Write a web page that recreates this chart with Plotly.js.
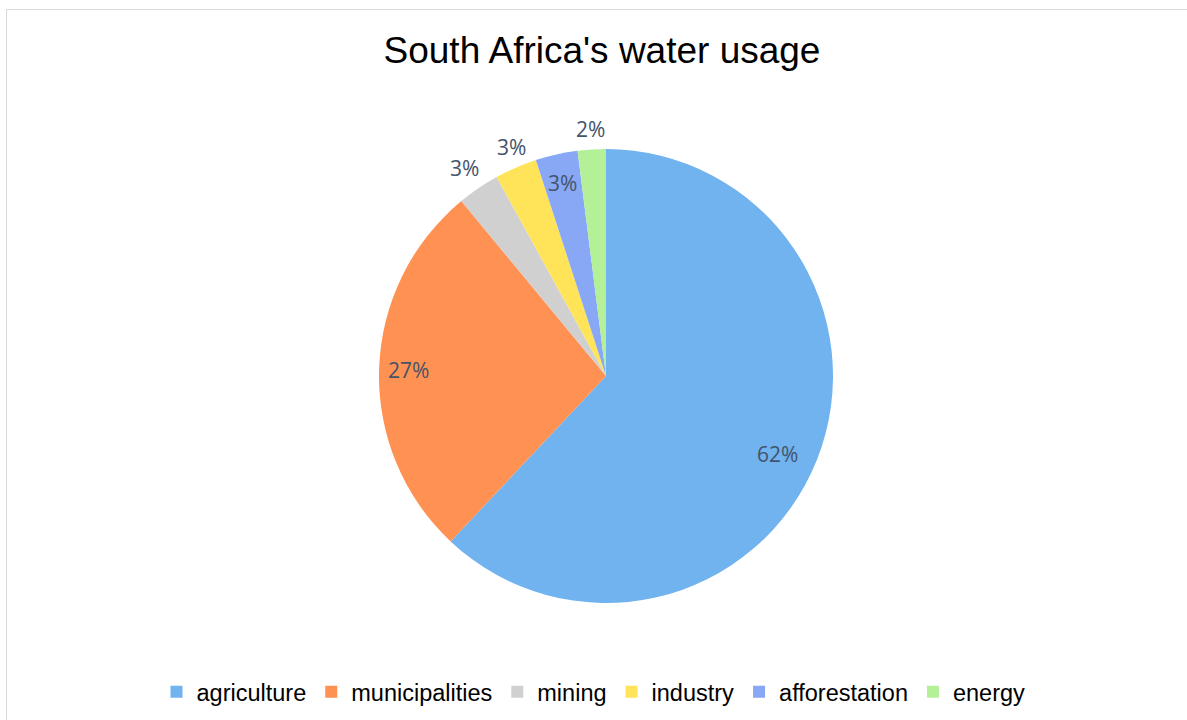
<!DOCTYPE html>
<html>
<head>
<meta charset="utf-8">
<script src="https://cdn.plot.ly/plotly-3.0.1.min.js"></script>
<style>
html,body{margin:0;padding:0;background:#fff;}
#chart{width:1187px;height:720px;}
</style>
</head>
<body>
<div id="chart"></div>
<script>
const categories = ["agriculture", "municipalities", "mining", "industry", "afforestation", "energy"];
const shares = [62, 27, 3, 3, 3, 2];
const sliceColors = ["#70B3EF", "#FF9152", "#D0D0D0", "#FFE45A", "#88A8F5", "#B3F098"];
// label placement style: distance from centre (fraction of radius) and angle nudge (degrees)
const labelRadius = [0.83, 0.87, 1.11, 1.09, 0.87, 1.09];
const labelAngleNudge = [3, 0, 0, 1, 0, 0];

const W = 1187, H = 720;
const cx = 606, cy = 376, r = 227;

const trace = {
  type: "pie",
  labels: categories,
  values: shares,
  sort: false,
  direction: "clockwise",
  rotation: 0,
  marker: { colors: sliceColors, line: { width: 0 } },
  textinfo: "none",
  domain: { x: [(cx - r) / W, (cx + r) / W], y: [1 - (cy + r) / H, 1 - (cy - r) / H] },
  hoverinfo: "none",
  showlegend: true
};

// data labels placed at each slice's mid-angle, computed from the values
const total = shares.reduce((a, b) => a + b, 0);
let cum = 0;
const annotations = shares.map((v, i) => {
  const mid = (cum + v / 2) / total * 2 * Math.PI + labelAngleNudge[i] * Math.PI / 180;
  cum += v;
  const rr = labelRadius[i] * r;
  const px = cx + rr * Math.sin(mid);
  const py = cy - rr * Math.cos(mid);
  return {
    xref: "paper", yref: "paper",
    x: px / W, y: 1 - py / H,
    xanchor: "center", yanchor: "middle",
    text: v + "%", showarrow: false,
    font: { family: "Open Sans, Noto Sans, sans-serif", size: 21, color: "#44546A" }
  };
});

const layout = {
  width: W, height: H,
  margin: { l: 0, r: 0, t: 0, b: 0 },
  paper_bgcolor: "#ffffff",
  title: {
    text: "South Africa's water usage",
    font: { family: "Liberation Sans, Arial, sans-serif", size: 37, color: "#000000" },
    x: 602 / W, xanchor: "center", y: 1 - 50 / H, yanchor: "middle"
  },
  showlegend: true,
  legend: {
    orientation: "h",
    x: 0.5, xanchor: "center",
    y: 1 - 692 / H, yanchor: "middle",
    font: { family: "Liberation Sans, Arial, sans-serif", size: 23.5, color: "#000000" },
    traceorder: "normal",
    itemwidth: 30
  },
  annotations: annotations,
  shapes: [{
    type: "rect", xref: "paper", yref: "paper",
    x0: 6.5 / W, x1: 1.01, y0: -0.01, y1: 1 - 9.5 / H,
    line: { color: "#D9D9D9", width: 1 }, fillcolor: "rgba(0,0,0,0)"
  }]
};

Plotly.newPlot("chart", [trace], layout, { displayModeBar: false, staticPlot: true });
</script>
</body>
</html>
